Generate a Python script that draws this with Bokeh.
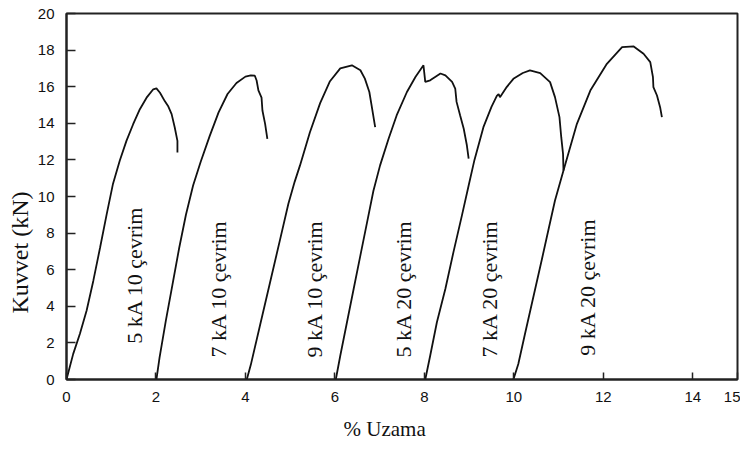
import math
from bokeh.plotting import figure
from bokeh.models import Range1d, FixedTicker, Label, Title
from bokeh.embed import file_html
from bokeh.resources import INLINE

# ---- data ----
x_5kA_10 = [0, 0.15, 0.3, 0.45, 0.6, 0.75, 0.9, 1.04, 1.19, 1.34, 1.49, 1.64, 1.79, 1.94, 2.01, 2.09, 2.2, 2.27, 2.35, 2.42, 2.48, 2.48]
y_5kA_10 = [0, 1.4, 2.5, 3.77, 5.4, 7.2, 9.05, 10.7, 11.95, 13.04, 13.95, 14.77, 15.4, 15.86, 15.91, 15.67, 15.2, 14.95, 14.5, 13.77, 13.04, 12.4]

x_7kA_10 = [2.01, 2.08, 2.22, 2.37, 2.52, 2.67, 2.83, 3.0, 3.2, 3.4, 3.6, 3.8, 4.0, 4.12, 4.21, 4.25, 4.29, 4.36, 4.38, 4.44, 4.49]
y_7kA_10 = [0, 1.2, 3.2, 5.2, 7.2, 9.0, 10.6, 11.9, 13.3, 14.6, 15.6, 16.2, 16.55, 16.62, 16.6, 16.34, 15.8, 15.4, 14.7, 13.97, 13.15]

x_9kA_10 = [4.03, 4.12, 4.32, 4.55, 4.77, 4.96, 5.1, 5.22, 5.44, 5.67, 5.89, 6.12, 6.38, 6.57, 6.67, 6.77, 6.82, 6.9]
y_9kA_10 = [0, 0.8, 2.9, 5.3, 7.6, 9.6, 10.8, 11.7, 13.5, 15.1, 16.3, 17.0, 17.17, 16.9, 16.44, 15.71, 14.98, 13.79]

x_5kA_20 = [6.02, 6.12, 6.27, 6.42, 6.57, 6.72, 6.86, 7.01, 7.2, 7.38, 7.61, 7.8, 7.98, 8.02, 8.13, 8.36, 8.47, 8.62, 8.69, 8.72, 8.8, 8.88, 8.95, 8.99]
y_5kA_20 = [0, 1.3, 3.13, 4.96, 6.78, 8.6, 10.3, 11.7, 13.16, 14.43, 15.71, 16.53, 17.17, 16.26, 16.35, 16.72, 16.62, 16.26, 15.9, 15.17, 14.43, 13.7, 12.8, 12.07]

x_7kA_20 = [8.02, 8.13, 8.28, 8.47, 8.65, 8.84, 8.99, 9.12, 9.32, 9.5, 9.62, 9.66, 9.69, 9.84, 9.99, 10.2, 10.36, 10.59, 10.81, 10.92, 11.02, 11.06, 11.1, 11.11]
y_7kA_20 = [0, 1.3, 3.13, 4.96, 6.96, 8.97, 10.6, 12.0, 13.79, 14.9, 15.5, 15.6, 15.43, 15.98, 16.43, 16.75, 16.89, 16.74, 16.25, 15.43, 14.34, 13.24, 12.33, 11.42]

x_9kA_20 = [9.99, 10.1, 10.25, 10.44, 10.63, 10.78, 10.92, 11.11, 11.41, 11.71, 12.08, 12.42, 12.68, 12.9, 13.05, 13.11, 13.12, 13.2, 13.27, 13.31]
y_9kA_20 = [0, 0.85, 2.5, 4.55, 6.6, 8.25, 9.78, 11.42, 13.97, 15.79, 17.25, 18.16, 18.2, 17.8, 17.34, 16.52, 15.98, 15.52, 14.88, 14.34]

series_labels = ["5 kA 10 çevrim", "7 kA 10 çevrim", "9 kA 10 çevrim",
                 "5 kA 20 çevrim", "7 kA 20 çevrim", "9 kA 20 çevrim"]
x_ticks = [0, 2, 4, 6, 8, 10, 12, 14, 15]
y_ticks = [0, 2, 4, 6, 8, 10, 12, 14, 16, 18, 20]
x_title = "% Uzama"
y_title = "Kuvvet (kN)"

series = [(x_5kA_10, y_5kA_10), (x_7kA_10, y_7kA_10), (x_9kA_10, y_9kA_10),
          (x_5kA_20, y_5kA_20), (x_7kA_20, y_7kA_20), (x_9kA_20, y_9kA_20)]

# label anchor positions (in data units)
label_x = [1.53, 3.39, 5.54, 7.54, 9.45, 11.64]
label_y = [1.95, 1.2, 1.2, 1.2, 1.2, 1.3]

p = figure(width=740, height=451, output_backend="svg", toolbar_location=None,
           x_range=Range1d(0, 15), y_range=Range1d(0, 20),
           min_border_left=66, min_border_right=3, min_border_top=13, min_border_bottom=72)

p.xgrid.visible = False
p.ygrid.visible = False
p.background_fill_color = "white"
p.border_fill_color = "white"
p.outline_line_color = "#222222"
p.outline_line_width = 2

for ax in (p.xaxis[0], p.yaxis[0]):
    ax.axis_line_color = "#222222"
    ax.axis_line_width = 2
    ax.major_tick_line_color = "#222222"
    ax.major_tick_line_width = 1.5
    ax.major_tick_out = 0
    ax.minor_tick_line_color = None
    ax.major_label_text_font = "Liberation Sans"
    ax.major_label_text_font_size = "15px"
    ax.major_label_text_color = "#111111"
    ax.major_label_standoff = 12

p.xaxis.ticker = FixedTicker(ticks=x_ticks)
p.yaxis.ticker = FixedTicker(ticks=y_ticks)
p.xaxis.major_tick_in = 7
p.yaxis.major_tick_in = 9

for xs, ys in series:
    p.line(xs, ys, line_color="#111111", line_width=1.8)

for txt, lx, ly in zip(series_labels, label_x, label_y):
    p.add_layout(Label(x=lx, y=ly, text=txt, angle=math.pi / 2,
                       text_align="left", text_baseline="middle",
                       text_font="Liberation Serif", text_font_size="22px",
                       text_color="#111111"))

p.add_layout(Title(text=y_title, align="left", offset=66, standoff=3,
                   text_font="Liberation Serif", text_font_size="24px",
                   text_font_style="normal", text_color="#111111"), "left")
p.add_layout(Title(text=x_title, align="left", offset=277, standoff=20,
                   text_font="Liberation Serif", text_font_size="21px",
                   text_font_style="normal", text_color="#111111"), "below")

open("out.html", "w").write(file_html(p, INLINE))
